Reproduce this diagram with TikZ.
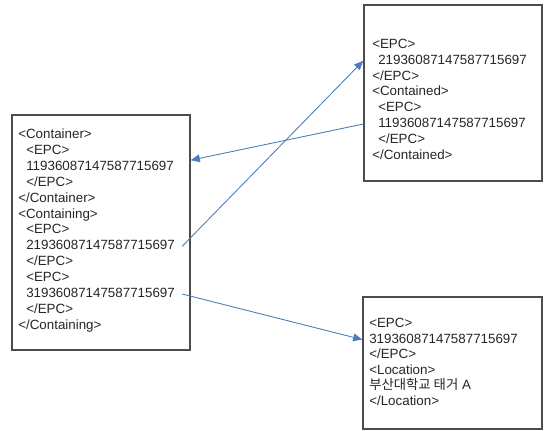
\documentclass[tikz,border=0pt]{standalone}
\usepackage{fontspec}
\setmainfont{Liberation Sans}
\newfontfamily\krfont{Noto Sans CJK KR}
\usetikzlibrary{arrows.meta,positioning}
\definecolor{linkblue}{HTML}{4A7EBB}
\definecolor{inkgray}{HTML}{262626}
\begin{document}
\begin{tikzpicture}[x=0.025cm,y=-0.025cm,font=\fontsize{9.5}{11}\selectfont,>={Triangle[length=6.5pt,width=5.5pt]},
  box/.style={draw=black!70,line width=1pt,fill=white,inner sep=0pt},
  tag/.style={anchor=west,inner sep=0pt,text height=7pt,text depth=2pt,text=inkgray},
  link/.style={->,draw=linkblue,fill=linkblue,line width=0.6pt}]
\useasboundingbox (0,0) rectangle (546,430);
% record boxes
\node[box,minimum width=4.45cm,minimum height=5.875cm] (lbox) at (101,232.5) {};
\node[box,minimum width=4.45cm,minimum height=4.4cm] (tbox) at (453,93) {};
\node[box,minimum width=4.475cm,minimum height=3.3cm] (bbox) at (452.5,363) {};
% container record
\foreach \x/\t [count=\i] in {18/{<Container>},26/{<EPC>},26/{11936087147587715697},26/{</EPC>},18/{</Container>},18/{<Containing>},26/{<EPC>},26/{21936087147587715697},26/{</EPC>},26/{<EPC>},26/{31936087147587715697},26/{</EPC>},18/{</Containing>}}
  \node[tag] (l\i) at (\x,135+15.9*\i-15.9) {\t};
% contained record
\foreach \x/\t [count=\i] in {372/{<EPC>},378/{21936087147587715697},372/{</EPC>},372/{<Contained>},378/{<EPC>},378/{11936087147587715697},378/{</EPC>},372/{</Contained>}}
  \node[tag] (t\i) at (\x,45+15.8*\i-15.8) {\t};
% location record
\foreach \t [count=\i] in {{<EPC>},{31936087147587715697},{</EPC>},{<Location>},{{\krfont 부산대학교 태거} A},{</Location>}}
  \node[tag] (b\i) at (369,324+15.6*\i-15.6) {\t};
% links
\draw[link] (tbox.west |- t6) -- (lbox.east |- l3.north);
\draw[link] ([xshift=5pt]l8.east) -- (tbox.west |- t2);
\draw[link] ([xshift=5pt]l11.east) -- (bbox.west |- b2);
\end{tikzpicture}
\end{document}
